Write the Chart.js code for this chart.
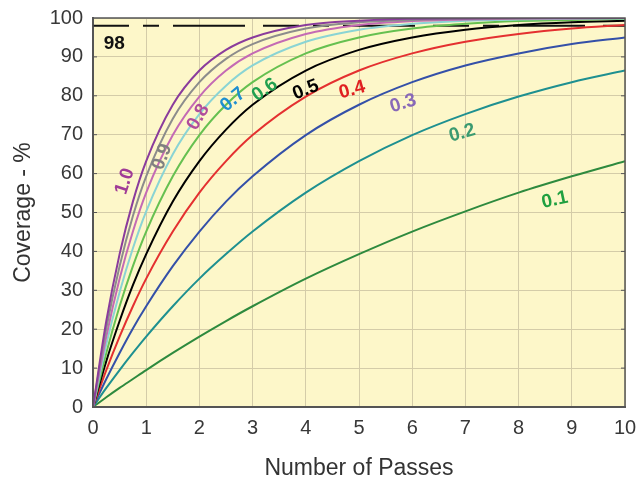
<!DOCTYPE html>
<html>
<head>
<meta charset="utf-8">
<script src="https://cdn.jsdelivr.net/npm/chart.js@4"></script>
<style>
  html, body { margin: 0; padding: 0; background: #fff; }
  #wrap { width: 638px; height: 480px; }
</style>
</head>
<body>
<div id="wrap"><canvas id="chart"></canvas></div>
<script>
// passes (x values) and coverage % for each factor
const passes = [0, 0.25, 0.5, 0.75, 1, 1.5, 2, 2.5, 3, 4, 5, 6, 7, 8, 9, 10];
const cov10 = [0, 22.1, 39.3, 52.8, 63.2, 77.7, 86.5, 91.8, 95.0, 98.2, 99.3, 99.8, 99.9, 100, 100, 100];
const cov09 = [0, 20.2, 36.2, 49.1, 59.3, 74.1, 83.5, 89.5, 93.3, 97.3, 98.9, 99.5, 99.8, 99.9, 100, 100];
const cov08 = [0, 18.1, 33.0, 45.1, 55.1, 69.9, 79.8, 86.5, 90.9, 95.9, 98.2, 99.2, 99.6, 99.8, 99.9, 100];
const cov07 = [0, 16.1, 29.5, 40.8, 50.3, 65.0, 75.3, 82.6, 87.8, 93.9, 97.0, 98.5, 99.3, 99.6, 99.8, 99.9];
const cov06 = [0, 13.9, 25.9, 36.2, 45.1, 59.3, 69.9, 77.7, 83.5, 90.9, 95.0, 97.3, 98.5, 99.2, 99.5, 99.8];
const cov05 = [0, 11.8, 22.1, 31.3, 39.3, 52.8, 63.2, 71.3, 77.7, 86.5, 91.8, 95.0, 97.0, 98.2, 98.9, 99.3];
const cov04 = [0, 9.5, 18.1, 25.9, 33.0, 45.1, 55.1, 63.2, 69.9, 79.8, 86.5, 90.9, 93.9, 95.9, 97.3, 98.2];
const cov03 = [0, 7.2, 13.9, 20.2, 25.9, 36.2, 45.1, 52.8, 59.3, 69.9, 77.7, 83.5, 87.8, 90.9, 93.3, 95.0];
const cov02 = [0, 4.9, 9.5, 13.9, 18.1, 25.9, 33.0, 39.3, 45.1, 55.1, 63.2, 69.9, 75.3, 79.8, 83.5, 86.5];
const cov01 = [0, 2.5, 4.9, 7.2, 9.5, 13.9, 18.1, 22.1, 25.9, 33.0, 39.3, 45.1, 50.3, 55.1, 59.3, 63.2];

const seriesNames = ["1.0", "0.9", "0.8", "0.7", "0.6", "0.5", "0.4", "0.3", "0.2", "0.1"];
const seriesValues = [cov10, cov09, cov08, cov07, cov06, cov05, cov04, cov03, cov02, cov01];
const target = 98;

const lineColors = ["#8a3c9c", "#8c8c8c", "#c46ab4", "#8ad4d4", "#66c050",
                    "#000000", "#e43030", "#3450a8", "#1e9090", "#2e8a3e"];
const labelColors = ["#a03c96", "#808080", "#b04c9c", "#1e8fd0", "#22a050",
                     "#000000", "#e02020", "#8868b8", "#3a9a70", "#20a040"];
// where each curve label sits (data coords) and its tilt in degrees
const labelX = [0.6, 1.3, 1.98, 2.63, 3.23, 4.0, 4.87, 5.83, 6.94, 8.68];
const labelY = [58, 64.3, 74.5, 79, 81.5, 81.5, 81.5, 78, 70.4, 53.2];
const labelAngle = [-72, -70, -60, -40, -35, -22, -15, -17, -16, -12];

const FONT = "'Liberation Sans', Arial, sans-serif";

const datasets = seriesValues.map((vals, i) => ({
  label: seriesNames[i],
  data: vals.map((v, j) => ({ x: passes[j], y: v })),
  borderColor: lineColors[i],
  borderWidth: 2,
  pointRadius: 0,
  cubicInterpolationMode: "monotone",
  fill: false
}));
datasets.push({
  label: "98",
  data: [{ x: 0, y: target }, { x: 10, y: target }],
  borderColor: "#111",
  borderWidth: 2,
  borderDash: [36, 14, 16, 14, 72, 18],
  pointRadius: 0,
  fill: false
});

const plotDecor = {
  id: "plotDecor",
  beforeDraw(chart) {
    const { ctx, chartArea: a } = chart;
    ctx.save();
    ctx.fillStyle = "#fdf7c9";
    ctx.fillRect(a.left, a.top, a.right - a.left, a.bottom - a.top);
    ctx.restore();
  },
  afterDatasetsDraw(chart) {
    const { ctx, chartArea: a, scales } = chart;
    ctx.save();
    // curve labels
    ctx.font = "bold 19px " + FONT;
    ctx.textAlign = "center";
    ctx.textBaseline = "middle";
    seriesNames.forEach((name, i) => {
      const px = scales.x.getPixelForValue(labelX[i]);
      const py = scales.y.getPixelForValue(labelY[i]);
      ctx.save();
      ctx.translate(px, py);
      ctx.rotate(labelAngle[i] * Math.PI / 180);
      ctx.fillStyle = labelColors[i];
      ctx.fillText(name, 0, 0);
      ctx.restore();
    });
    // "98" label
    ctx.fillStyle = "#111";
    ctx.textAlign = "left";
    ctx.fillText(String(target), scales.x.getPixelForValue(0.2), scales.y.getPixelForValue(93.3));
    // frame
    ctx.strokeStyle = "#555";
    ctx.lineWidth = 1.5;
    ctx.strokeRect(a.left, a.top, a.right - a.left, a.bottom - a.top);
    ctx.lineWidth = 1;
    for (let v = 10; v < 100; v += 10) {
      const py = scales.y.getPixelForValue(v);
      ctx.beginPath();
      ctx.moveTo(a.right - 4, py); ctx.lineTo(a.right, py);
      ctx.moveTo(a.left, py); ctx.lineTo(a.left + 4, py);
      ctx.stroke();
    }
    ctx.restore();
  }
};

new Chart(document.getElementById("chart"), {
  type: "line",
  data: { datasets: datasets },
  options: {
    responsive: true,
    maintainAspectRatio: false,
    animation: false,
    layout: { padding: { top: 18, right: 13, bottom: 0, left: 0 } },
    plugins: { legend: { display: false }, tooltip: { enabled: false } },
    scales: {
      x: {
        type: "linear",
        min: 0, max: 10,
        ticks: { stepSize: 1, padding: 9, color: "#383838", font: { family: FONT, size: 20 } },
        grid: { color: "#d4cca8", lineWidth: 1, drawTicks: false },
        border: { color: "#555", width: 2 },
        title: { display: true, text: "Number of Passes", color: "#333",
                 font: { family: FONT, size: 23, lineHeight: 1 }, padding: { top: 0, bottom: 0 } },
        afterFit(scale) { scale.height = 73; scale.paddingLeft = 0; scale.paddingRight = 0; }
      },
      y: {
        min: 0, max: 100,
        ticks: { stepSize: 10, padding: 10, color: "#383838", font: { family: FONT, size: 20 } },
        grid: { color: "#d4cca8", lineWidth: 1, drawTicks: false },
        border: { color: "#555", width: 2 },
        title: { display: true, text: "Coverage - %", color: "#333",
                 font: { family: FONT, size: 23, lineHeight: 1 }, padding: { top: 12, bottom: 0 } },
        afterFit(scale) { scale.width = 93; scale.paddingTop = 0; scale.paddingBottom = 0; }
      }
    }
  },
  plugins: [plotDecor]
});
</script>
</body>
</html>
